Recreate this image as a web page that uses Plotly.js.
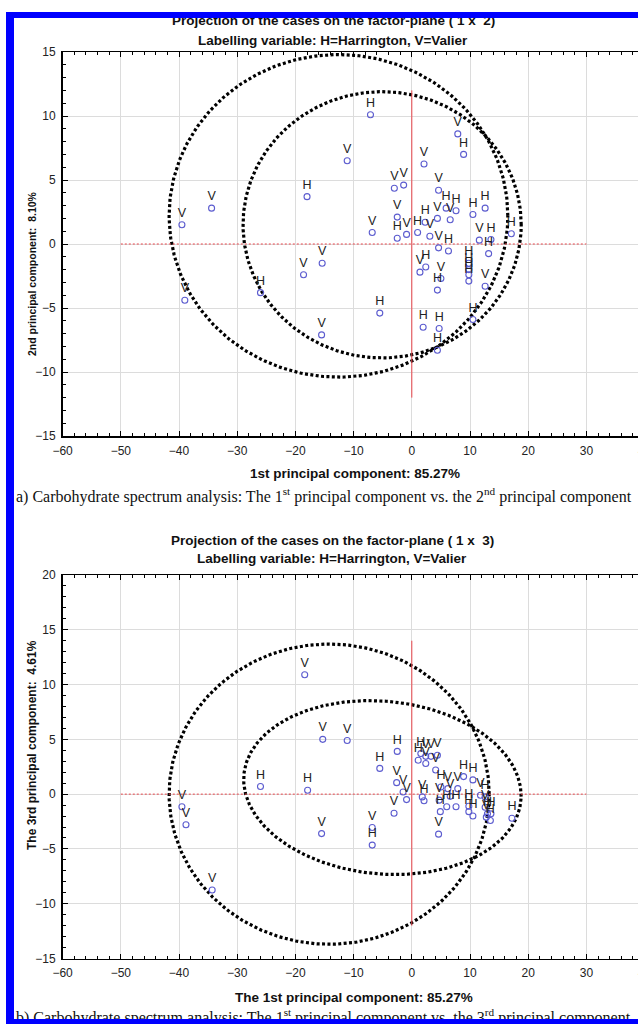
<!DOCTYPE html>
<html>
<head>
<meta charset="utf-8">
<script src="https://cdn.plot.ly/plotly-3.0.1.min.js"></script>
<style>
html,body{margin:0;padding:0;width:638px;height:1024px;overflow:hidden;background:#fff;}
#chart{position:absolute;left:0;top:0;width:700px;height:1024px;}
#frame{position:absolute;left:6px;top:12px;width:700px;height:1012px;border-left:8px solid #0000ff;border-top:6px solid #0000ff;border-bottom:5px solid #0000ff;box-sizing:border-box;pointer-events:none;z-index:10;}
</style>
</head>
<body>
<div id="chart"></div>
<div id="frame"></div>
<script>
// ---------- data: plot (a) PC1 vs PC2 ----------
const pc1a = [-7.1,-11.1,-18.0,-34.4,-39.5,-6.8,-15.4,-18.6,-39.0,-26.0,-5.5,-15.5,
  7.9,8.9,2.1,-3.0,-1.4,4.6,-2.5,2.3,4.4,6.6,5.9,7.6,10.5,12.6,-2.5,-0.9,1.0,3.1,
  4.6,6.3,11.6,13.6,17.1,13.2,9.8,9.8,9.8,9.8,12.6,1.4,2.4,5.0,4.4,10.5,1.95,4.7,4.4];
const pc2a = [10.1,6.5,3.7,2.8,1.5,0.9,-1.5,-2.4,-4.4,-3.8,-5.4,-7.1,
  8.6,7.0,6.25,4.35,4.6,4.2,2.1,1.7,2.0,1.9,2.8,2.6,2.3,2.8,0.45,0.75,0.9,0.6,
  -0.3,-0.55,0.3,0.35,0.8,-0.75,-1.5,-2.0,-2.4,-2.9,-3.3,-2.2,-1.8,-2.7,-3.6,-5.9,-6.5,-6.6,-8.3];
const labA = ['H','V','H','V','V','V','V','V','V','H','H','V',
  'V','H','V','V','V','V','V','H','V','V','H','H','H','H','H','V','H','V',
  'V','H','V','H','H','H','H','H','H','H','V','V','H','V','H','H','H','H','H'];

// ---------- data: plot (b) PC1 vs PC3 ----------
const pc1b = [-18.4,-15.3,-11.1,-2.5,-5.5,-2.6,-26.0,-17.9,-39.5,-38.8,-15.5,-6.8,-6.8,-3.05,-34.3,
  -0.9,-1.5,1.1,1.55,2.4,3.3,4.4,2.4,4.1,5.0,6.2,7.9,6.6,6.0,7.6,8.9,10.5,2.1,1.8,4.7,4.9,4.6,
  9.8,9.8,10.5,11.8,12.6,12.6,13.0,13.6,13.5,12.8,17.2];
const pc3b = [10.9,5.0,4.9,3.9,2.35,1.05,0.7,0.35,-1.15,-2.8,-3.6,-3.05,-4.65,-1.75,-8.75,
  -0.5,0.2,3.1,3.7,3.45,3.45,3.55,2.8,2.2,0.65,0.5,0.5,-0.2,-1.15,-1.15,1.6,1.3,-0.6,-0.25,-0.55,-1.6,-3.65,
  -1.1,-1.6,-2.0,-0.1,-0.25,-1.2,-1.8,-1.8,-2.4,-2.1,-2.2];
const labB = ['V','V','V','H','H','V','H','H','V','V','V','V','H','V','V',
  'V','V','H','H','V','V','V','V','V','H','V','V','V','H','H','H','H','H','V','V','H','V',
  'H','H','H','V','H','V','H','H','H','V','H'];

// ellipses: [centre x, centre y, semi-axis x, semi-axis y, angle (rad)]
const ellipsesA = [[-12.6,2.2,29.1,12.6,0],[-5.1,1.5,23.9,10.4,0]];
const ellipsesB = [[-14.2,0.0,27.5,13.7,0],[-5.05,0.6,23.85,7.9,-0.035]];

// reference cross lines
const hLineX = [-50,30];
const vLineYA = [-12,12];
const vLineYB = [-12,14];

const W = 700, H = 1024;
function ellipse(p){
  const xs=[],ys=[];
  for(let i=0;i<=360;i++){
    const t=i*Math.PI/180;
    const ex=p[2]*Math.cos(t), ey=p[3]*Math.sin(t);
    xs.push(p[0]+ex*Math.cos(p[4])-ey*Math.sin(p[4]));
    ys.push(p[1]+ex*Math.sin(p[4])+ey*Math.cos(p[4]));
  }
  return {xs,ys};
}
const traces=[];
function addPlot(xa,ya,ells,vy,px,py,lab){
  ells.forEach(p=>{
    const e=ellipse(p);
    traces.push({x:e.xs,y:e.ys,xaxis:xa,yaxis:ya,mode:'lines',type:'scatter',
      line:{color:'#000',width:3.2,dash:'3px,2.4px'},hoverinfo:'skip'});
  });
  traces.push({x:hLineX,y:[0,0],xaxis:xa,yaxis:ya,mode:'lines',type:'scatter',
    line:{color:'#e8454a',width:1,dash:'2px,2px'},hoverinfo:'skip'});
  traces.push({x:[0,0],y:vy,xaxis:xa,yaxis:ya,mode:'lines',type:'scatter',
    line:{color:'#e8454a',width:1},hoverinfo:'skip'});
  traces.push({x:px,y:py,text:lab,xaxis:xa,yaxis:ya,mode:'markers+text',type:'scatter',
    textposition:'top center',textfont:{family:'Liberation Sans, Arial',size:12.5,color:'#222'},
    marker:{symbol:'circle-open',size:6,color:'#5c5ccf',line:{width:1.1}},cliponaxis:false});
}
addPlot('x','y',ellipsesA,vLineYA,pc1a,pc2a,labA);
addPlot('x2','y2',ellipsesB,vLineYB,pc1b,pc3b,labB);

const tickFont={family:'Liberation Sans, Arial',size:12,color:'#222'};
function xax(anchor){
  return {domain:[62.6/W,644.6/W],range:[-60,40],anchor:anchor,dtick:10,tick0:-60,
    showgrid:true,gridcolor:'#dcdcdc',gridwidth:1,zeroline:false,showline:true,linecolor:'#000',linewidth:1.5,
    mirror:'ticks',ticks:'inside',ticklen:5,tickcolor:'#000',tickfont:tickFont,ticklabelstandoff:3,
    minor:{dtick:2,ticks:'inside',ticklen:3,tickcolor:'#000',showgrid:false}};
}
function yax(anchor,dom,rng){
  return {domain:dom,range:rng,anchor:anchor,dtick:5,tick0:0,
    showgrid:true,gridcolor:'#dcdcdc',gridwidth:1,zeroline:false,showline:true,linecolor:'#000',linewidth:1.5,
    mirror:'ticks',ticks:'inside',ticklen:5,tickcolor:'#000',tickfont:tickFont,ticklabelstandoff:3,
    minor:{dtick:1,ticks:'inside',ticklen:3,tickcolor:'#000',showgrid:false}};
}
function ann(text,px,py,opt){
  return Object.assign({text:text,x:px/W,y:1-py/H,xref:'paper',yref:'paper',showarrow:false,
    xanchor:'center',yanchor:'middle',font:{family:'Liberation Sans, Arial',size:13.5,color:'#111'}},opt||{});
}
const serif={family:'Liberation Serif, Times New Roman',size:16,color:'#111'};
const yFontA={family:'Liberation Sans, Arial',size:10.5,color:'#111'};
const yFontB={family:'Liberation Sans, Arial',size:12,color:'#111'};
const annotations=[
  ann('<b>Projection of the cases on the factor-plane ( 1 x \u00a02)</b>',333,20),
  ann('<b>Labelling variable: H=Harrington, V=Valier</b>',333,40),
  ann('<b>2nd principal component: \u00a08.10%</b>',32,274,{textangle:-90,font:yFontA}),
  ann('<b>1st principal component: 85.27%</b>',355,473),
  ann('a) Carbohydrate spectrum analysis: The 1<sup>st</sup> principal component vs. the 2<sup>nd</sup> principal component',14,495,{xanchor:'left',font:serif}),
  ann('<b>Projection of the cases on the factor-plane ( 1 x \u00a03)</b>',332,540),
  ann('<b>Labelling variable: H=Harrington, V=Valier</b>',332,558),
  ann('<b>The 3rd principal component: \u00a04.61%</b>',32,745,{textangle:-90,font:yFontB}),
  ann('<b>The 1st principal component: 85.27%</b>',354,997),
  ann('b) Carbohydrate spectrum analysis: The 1<sup>st</sup> principal component vs. the 3<sup>rd</sup> principal component',14,1016,{xanchor:'left',font:serif})
];
const layout={
  width:W,height:H,margin:{l:0,r:0,t:0,b:0},paper_bgcolor:'#fff',plot_bgcolor:'#fff',showlegend:false,
  xaxis:xax('y'),yaxis:yax('x',[1-436/H,1-52/H],[-15,15]),
  xaxis2:xax('y2'),yaxis2:yax('x2',[1-958.5/H,1-575/H],[-15,20]),
  annotations:annotations
};
Plotly.newPlot('chart',traces,layout,{staticPlot:true});
</script>
</body>
</html>
